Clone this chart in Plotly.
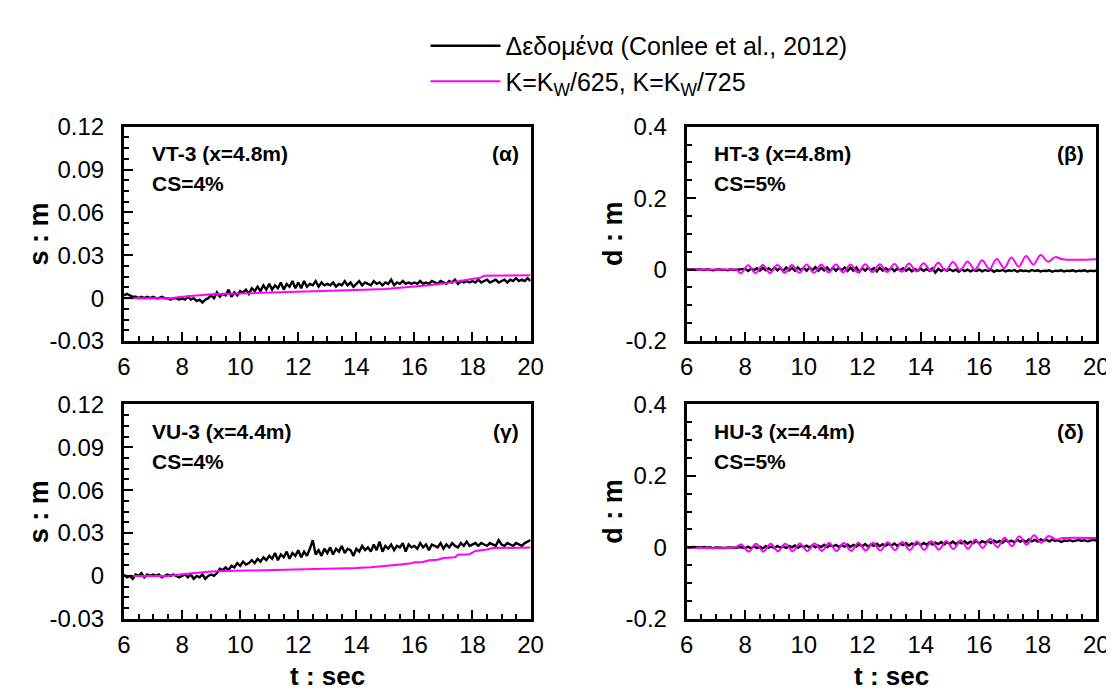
import plotly.graph_objects as go

W, H = 1114, 692

# ---------------- data ----------------
t_data = [round(6.0 + 0.1 * i, 1) for i in range(141)]

alpha_data = [
    0.002, 0.003, 0.002, 0.001, 0.001, 0.000, 0.001, 0.000, 0.001, 0.000,
    0.001, 0.000, 0.000, 0.001, 0.000, 0.000, -0.001, 0.000, 0.000, -0.001,
    0.000, -0.001, 0.001, -0.001, 0.000, -0.002, -0.001, -0.003, -0.001, 0.000,
    0.002, 0.000, 0.004, 0.001, 0.003, 0.002, 0.006, 0.001, 0.004, 0.002,
    0.005, 0.004, 0.006, 0.003, 0.007, 0.005, 0.008, 0.005, 0.009, 0.006,
    0.010, 0.006, 0.009, 0.007, 0.011, 0.006, 0.010, 0.008, 0.012, 0.007,
    0.011, 0.007, 0.012, 0.008, 0.010, 0.009, 0.012, 0.008, 0.011, 0.009,
    0.010, 0.009, 0.011, 0.008, 0.010, 0.009, 0.012, 0.009, 0.011, 0.008,
    0.010, 0.012, 0.009, 0.011, 0.010, 0.009, 0.012, 0.010, 0.011, 0.009,
    0.011, 0.010, 0.013, 0.009, 0.011, 0.010, 0.012, 0.010, 0.011, 0.010,
    0.011, 0.010, 0.012, 0.010, 0.011, 0.010, 0.012, 0.011, 0.010, 0.012,
    0.011, 0.010, 0.012, 0.011, 0.013, 0.010, 0.012, 0.011, 0.012, 0.011,
    0.012, 0.011, 0.013, 0.011, 0.012, 0.013, 0.011, 0.012, 0.013, 0.011,
    0.012, 0.013, 0.011, 0.013, 0.012, 0.014, 0.012, 0.013, 0.012, 0.014,
    0.012,
]
alpha_model_t = [6.0, 7.6, 8.0, 8.5, 9.0, 10.0, 11.0, 12.0, 13.0, 14.0, 15.0, 15.5,
                 16.0, 16.5, 17.0, 17.5, 17.8, 18.0, 18.3, 18.4, 19.0, 20.0]
alpha_model = [0.0, 0.0, 0.001, 0.002, 0.0027, 0.0033, 0.0038, 0.0043, 0.005, 0.0057,
               0.0065, 0.0072, 0.008, 0.009, 0.0102, 0.012, 0.013, 0.0138, 0.0145,
               0.0157, 0.0159, 0.016]

beta_data = [
    0.002, 0.000, 0.001, -0.001, 0.001, 0.000, -0.001, 0.001, 0.000, -0.002,
    0.000, 0.001, -0.001, 0.000, -0.002, 0.001, -0.001, 0.000, -0.001, 0.000,
    0.002, -0.004, 0.003, -0.002, 0.004, -0.003, 0.005, -0.002, 0.004, -0.003,
    0.006, -0.002, 0.005, -0.004, 0.006, -0.002, 0.005, -0.003, 0.006, -0.002,
    0.005, -0.003, 0.006, -0.002, 0.007, -0.003, 0.005, -0.002, 0.006, -0.004,
    0.006, -0.003, 0.005, -0.002, 0.006, -0.004, 0.005, -0.003, 0.006, -0.006,
    0.004, -0.003, 0.005, -0.002, 0.004, -0.005, 0.005, -0.003, 0.004, -0.002,
    0.004, -0.004, 0.003, -0.002, 0.004, -0.003, 0.003, -0.005, 0.002, -0.003,
    0.003, -0.004, 0.002, -0.003, 0.003, -0.008, 0.002, -0.004, 0.001, -0.003,
    0.001, -0.004, 0.000, -0.006, 0.001, -0.004, 0.000, -0.005, -0.001, -0.004,
    0.000, -0.005, -0.001, -0.004, 0.000, -0.006, -0.002, -0.004, -0.001, -0.005,
    -0.002, -0.004, -0.001, -0.006, -0.002, -0.004, -0.003, -0.005, -0.001, -0.004,
    -0.002, -0.005, -0.003, -0.004, -0.002, -0.006, -0.003, -0.004, -0.002, -0.005,
    -0.003, -0.004, -0.002, -0.005, -0.003, -0.004, -0.002, -0.005, -0.003, -0.004,
    -0.003,
]
beta_model_t = [6.0, 7.6, 7.7,
                7.85, 8.10, 8.35, 8.60, 8.85, 9.10, 9.35, 9.60, 9.85, 10.10,
                10.35, 10.60, 10.85, 11.10, 11.35, 11.60, 11.85, 12.10, 12.35, 12.60,
                12.85, 13.10, 13.35, 13.60, 13.85, 14.10, 14.35, 14.60, 14.85, 15.10,
                15.35, 15.60, 15.85, 16.10, 16.35, 16.60, 16.85, 17.10, 17.35, 17.60,
                17.85, 18.10, 18.35, 18.60, 18.85, 20.0]
beta_model = [0.0, 0.0, 0.0,
              -0.010, 0.012, -0.010, 0.013, -0.010, 0.013, -0.009, 0.013, -0.009, 0.014,
              -0.009, 0.014, -0.008, 0.014, -0.008, 0.014, -0.008, 0.015, -0.007, 0.015,
              -0.007, 0.016, -0.006, 0.017, -0.005, 0.018, -0.004, 0.019, -0.003, 0.021,
              -0.002, 0.023, 0.000, 0.026, 0.002, 0.030, 0.004, 0.034, 0.008, 0.038,
              0.014, 0.041, 0.022, 0.035, 0.029, 0.029]

gamma_data = [
    0.001, -0.001, 0.000, -0.002, 0.001, 0.000, 0.002, -0.001, 0.001, 0.000,
    0.001, 0.000, 0.001, -0.001, 0.000, 0.001, 0.000, 0.001, 0.000, -0.001,
    0.000, 0.001, -0.001, 0.001, -0.002, 0.000, -0.001, 0.001, -0.002, 0.000,
    0.001, 0.000, 0.002, 0.005, 0.004, 0.006, 0.004, 0.007, 0.006, 0.009,
    0.007, 0.010, 0.008, 0.009, 0.011, 0.009, 0.012, 0.010, 0.013, 0.011,
    0.014, 0.012, 0.016, 0.011, 0.015, 0.013, 0.017, 0.012, 0.016, 0.014,
    0.018, 0.013, 0.017, 0.014, 0.019, 0.025, 0.015, 0.018, 0.014, 0.019,
    0.016, 0.020, 0.015, 0.019, 0.017, 0.021, 0.016, 0.019, 0.018, 0.014,
    0.019, 0.017, 0.021, 0.018, 0.020, 0.017, 0.022, 0.018, 0.024, 0.017,
    0.021, 0.019, 0.022, 0.018, 0.021, 0.020, 0.023, 0.017, 0.022, 0.020,
    0.021, 0.019, 0.023, 0.020, 0.022, 0.018, 0.022, 0.021, 0.020, 0.023,
    0.019, 0.022, 0.020, 0.023, 0.021, 0.020, 0.023, 0.021, 0.024, 0.021,
    0.022, 0.023, 0.021, 0.023, 0.022, 0.021, 0.023, 0.022, 0.021, 0.025,
    0.022, 0.021, 0.023, 0.022, 0.021, 0.023, 0.022, 0.021, 0.023, 0.024,
    0.025,
]
gamma_model_t = [6.0, 7.5, 8.0, 8.5, 9.0, 9.5, 10.0, 11.0, 12.0, 13.0, 14.0, 14.5, 15.0,
                 15.3, 15.6, 15.9, 16.0, 16.3, 16.5, 16.8, 17.0, 17.4, 17.5, 17.9, 18.1,
                 18.5, 18.7, 20.0]
gamma_model = [0.0, 0.0, 0.0012, 0.0022, 0.003, 0.0034, 0.0036, 0.004, 0.0045, 0.005,
               0.0055, 0.006, 0.0068, 0.0075, 0.0082, 0.0088, 0.0095, 0.0098, 0.011,
               0.0113, 0.0125, 0.013, 0.0148, 0.0152, 0.0175, 0.0185, 0.0195, 0.0198]

delta_data = [
    0.000, -0.001, 0.001, 0.000, -0.001, 0.000, 0.001, -0.001, 0.000, -0.002,
    0.000, -0.001, 0.000, -0.002, 0.000, -0.001, 0.000, -0.001, 0.001, 0.000,
    -0.002, 0.002, -0.003, 0.003, -0.002, 0.002, -0.003, 0.003, -0.001, 0.002,
    -0.002, 0.004, -0.001, 0.003, -0.002, 0.004, 0.000, 0.005, -0.001, 0.004,
    0.001, 0.005, -0.001, 0.006, 0.000, 0.005, 0.001, 0.007, 0.000, 0.006,
    0.002, 0.007, 0.001, 0.006, 0.002, 0.008, 0.001, 0.007, 0.002, 0.008,
    0.003, 0.009, 0.002, 0.008, 0.004, 0.010, 0.003, 0.009, 0.004, 0.010,
    0.005, 0.011, 0.004, 0.010, 0.006, 0.012, 0.005, 0.011, 0.007, 0.013,
    0.006, 0.012, 0.007, 0.014, 0.008, 0.013, 0.009, 0.015, 0.008, 0.014,
    0.010, 0.016, 0.009, 0.015, 0.011, 0.017, 0.010, 0.016, 0.012, 0.018,
    0.011, 0.017, 0.013, 0.018, 0.012, 0.019, 0.014, 0.018, 0.013, 0.020,
    0.015, 0.019, 0.014, 0.021, 0.016, 0.020, 0.015, 0.022, 0.017, 0.021,
    0.016, 0.022, 0.018, 0.021, 0.017, 0.022, 0.018, 0.020, 0.015, 0.019,
    0.018, 0.020, 0.017, 0.019, 0.021, 0.018, 0.020, 0.017, 0.019, 0.021,
    0.019,
]
delta_model_t = [6.0, 7.65,
                 7.87, 8.12, 8.37, 8.62, 8.87, 9.12, 9.37, 9.62, 9.87, 10.12,
                 10.37, 10.62, 10.87, 11.12, 11.37, 11.62, 11.87, 12.12, 12.37, 12.62,
                 12.87, 13.12, 13.37, 13.62, 13.87, 14.12, 14.37, 14.62, 14.87, 15.12,
                 15.37, 15.62, 15.87, 16.12, 16.37, 16.62, 16.87, 17.12, 17.37, 17.62,
                 17.87, 18.12, 18.37, 18.62, 18.87, 20.0]
delta_model = [0.0, 0.0,
               0.008, -0.012, 0.010, -0.012, 0.010, -0.011, 0.010, -0.011, 0.011, -0.011,
               0.011, -0.010, 0.012, -0.010, 0.012, -0.010, 0.013, -0.009, 0.013, -0.009,
               0.014, -0.008, 0.015, -0.008, 0.016, -0.007, 0.017, -0.006, 0.018, -0.005,
               0.020, -0.004, 0.022, -0.002, 0.024, 0.000, 0.027, 0.003, 0.031, 0.007,
               0.034, 0.013, 0.032, 0.022, 0.026, 0.026]

x_ticks = [6, 8, 10, 12, 14, 16, 18, 20]
s_ticks = [-0.03, 0, 0.03, 0.06, 0.09, 0.12]
s_ticktext = ["-0.03", "0", "0.03", "0.06", "0.09", "0.12"]
d_ticks = [-0.2, 0, 0.2, 0.4]
d_ticktext = ["-0.2", "0", "0.2", "0.4"]

legend_data = "Δεδομένα (Conlee et al., 2012)"
legend_model = "K=K<sub>W</sub>/625, K=K<sub>W</sub>/725"

panels = [
    ("a", "x", "y", alpha_data, alpha_model_t, alpha_model, "VT-3 (x=4.8m)", "CS=4%", "(α)"),
    ("b", "x2", "y2", beta_data, beta_model_t, beta_model, "HT-3 (x=4.8m)", "CS=5%", "(β)"),
    ("c", "x3", "y3", gamma_data, gamma_model_t, gamma_model, "VU-3 (x=4.4m)", "CS=4%", "(γ)"),
    ("d", "x4", "y4", delta_data, delta_model_t, delta_model, "HU-3 (x=4.4m)", "CS=5%", "(δ)"),
]

FONT = "Liberation Sans, Arial, sans-serif"
BLACK = "#000000"
MAGENTA = "#FF00FF"
TICK_SIZE = 24

fig = go.Figure()
for i, (tag, xa, ya, dat, mt, mv, l1, l2, letter) in enumerate(panels):
    spline = tag in ("b", "d")
    fig.add_trace(go.Scatter(
        x=t_data, y=dat, xaxis=xa, yaxis=ya, mode="lines",
        line=dict(color=BLACK, width=2.4), name=legend_data,
        showlegend=(i == 0), legendrank=1))
    fig.add_trace(go.Scatter(
        x=mt, y=mv, xaxis=xa, yaxis=ya, mode="lines",
        line=dict(color=MAGENTA, width=2, shape="spline" if spline else "linear",
                  smoothing=1.0),
        name=legend_model, showlegend=(i == 0), legendrank=2))

left_x = [111, 525]
right_x = [684, 1101]
top_y = [109, 332]
bot_y = [398, 621]


def xd(px):
    return [px[0] / W, px[1] / W]


def yd(py):
    return [1 - py[1] / H, 1 - py[0] / H]


def xaxis(dom, anchor):
    return dict(domain=xd(dom), anchor=anchor, range=[6, 20],
                tickvals=x_ticks, ticktext=[str(v) for v in x_ticks],
                ticks="inside", ticklen=9, tickwidth=1.5, tickcolor=BLACK,
                minor=dict(ticks="inside", ticklen=5, tickwidth=1.5, dtick=0.5,
                           tickcolor=BLACK, tick0=6),
                showline=True, linewidth=3, linecolor=BLACK, mirror=True,
                showgrid=False, zeroline=False, ticklabelstandoff=2,
                tickfont=dict(family=FONT, size=TICK_SIZE, color=BLACK))


def yaxis(dom, anchor, kind):
    if kind == "s":
        rng, tv, tt, mdt = [-0.03, 0.12], s_ticks, s_ticktext, 0.0075
    else:
        rng, tv, tt, mdt = [-0.2, 0.4], d_ticks, d_ticktext, 0.05
    return dict(domain=yd(dom), anchor=anchor, range=rng,
                tickvals=tv, ticktext=tt,
                ticks="inside", ticklen=9, tickwidth=1.5, tickcolor=BLACK,
                minor=dict(ticks="inside", ticklen=5, tickwidth=1.5, dtick=mdt,
                           tick0=rng[0], tickcolor=BLACK),
                showline=True, linewidth=3, linecolor=BLACK, mirror=True,
                showgrid=False, zeroline=False, ticklabelstandoff=12,
                tickfont=dict(family=FONT, size=TICK_SIZE, color=BLACK))


fig.update_layout(
    width=W, height=H,
    margin=dict(l=0, r=0, t=0, b=0),
    paper_bgcolor="white", plot_bgcolor="white",
    font=dict(family=FONT, color=BLACK),
    xaxis=xaxis(left_x, "y"), yaxis=yaxis(top_y, "x", "s"),
    xaxis2=xaxis(right_x, "y2"), yaxis2=yaxis(top_y, "x2", "d"),
    xaxis3=xaxis(left_x, "y3"), yaxis3=yaxis(bot_y, "x3", "s"),
    xaxis4=xaxis(right_x, "y4"), yaxis4=yaxis(bot_y, "x4", "d"),
    legend=dict(x=418 / W, y=1 - 1 / H, xanchor="left", yanchor="top",
                font=dict(family=FONT, size=25, color=BLACK),
                bgcolor="rgba(0,0,0,0)", itemwidth=70, tracegroupgap=0),
    showlegend=True,
)

ann = []
LAB = 21
for (tag, xa, ya, dat, mt, mv, l1, l2, letter) in panels:
    xr = xa + " domain"
    yr = ya + " domain"
    ann.append(dict(text=l1, xref=xr, yref=yr, x=26 / 414, y=1 - 28 / 223,
                    xanchor="left", yanchor="middle", showarrow=False,
                    font=dict(family=FONT, size=LAB, color=BLACK, weight="bold")))
    ann.append(dict(text=l2, xref=xr, yref=yr, x=26 / 414, y=1 - 59 / 223,
                    xanchor="left", yanchor="middle", showarrow=False,
                    font=dict(family=FONT, size=LAB, color=BLACK, weight="bold")))
    ann.append(dict(text=letter, xref=xr, yref=yr, x=1 - 10 / 414, y=1 - 28 / 223,
                    xanchor="right", yanchor="middle", showarrow=False,
                    font=dict(family=FONT, size=LAB, color=BLACK, weight="bold")))

ytitles = [("s : m", 24, top_y), ("d : m", 609, top_y), ("s : m", 24, bot_y), ("d : m", 609, bot_y)]
for txt, px, py in ytitles:
    ann.append(dict(text=txt, xref="paper", yref="paper", x=px / W,
                    y=1 - (py[0] + py[1]) / 2 / H, textangle=-90,
                    xanchor="center", yanchor="middle", showarrow=False,
                    font=dict(family=FONT, size=27, color=BLACK, weight="bold")))
for px in [(left_x[0] + left_x[1]) / 2, (right_x[0] + right_x[1]) / 2]:
    ann.append(dict(text="t : sec", xref="paper", yref="paper", x=px / W,
                    y=1 - 664 / H, xanchor="center", yanchor="top",
                    showarrow=False, borderpad=0,
                    font=dict(family=FONT, size=26, color=BLACK, weight="bold")))

fig.update_layout(annotations=ann)
fig.write_html("out.html")
